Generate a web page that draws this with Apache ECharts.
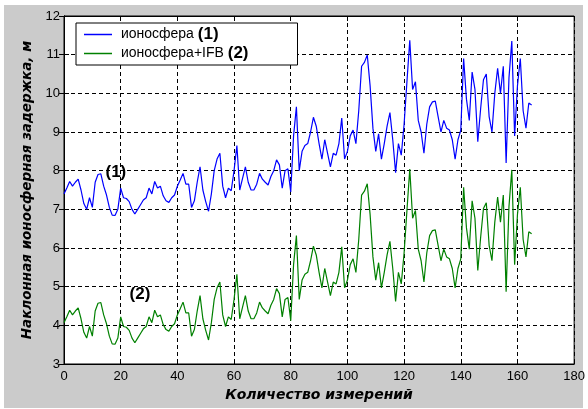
<!DOCTYPE html>
<html>
<head>
<meta charset="utf-8">
<script src="https://cdn.jsdelivr.net/npm/echarts@6/dist/echarts.min.js"></script>
<style>
  html, body { margin: 0; padding: 0; background: #ffffff; }
  #bg { position: absolute; left: 4px; top: 5px; width: 579px; height: 403px; background: #cbcbcb; }
  #chart { position: absolute; left: 0; top: 0; width: 588px; height: 409px; }
</style>
</head>
<body>
<div id="bg"></div>
<div id="chart"></div>
<script>
// Measurement index starts at 0, one value per measurement
const firstIndex = 0;

// Series (1): ionosphere slant delay, m
const ionosphere = [
  7.40, 7.55, 7.72, 7.60, 7.70, 7.78, 7.50, 7.15, 7.00, 7.30,
  7.05, 7.70, 7.90, 7.92, 7.60, 7.37, 7.05, 6.85, 6.84, 7.00,
  7.55, 7.30, 7.28, 7.20, 7.00, 6.88, 7.00, 7.12, 7.24, 7.30,
  7.55, 7.40, 7.72, 7.55, 7.60, 7.35, 7.22, 7.18, 7.30, 7.37,
  7.60, 7.76, 7.93, 7.65, 7.65, 7.05, 7.22, 7.70, 8.10, 7.50,
  7.20, 6.95, 7.40, 8.00, 8.30, 8.45, 7.60, 7.30, 7.55, 7.48,
  8.00, 8.65, 7.50, 7.80, 8.10, 7.70, 7.50, 7.50, 7.65, 7.93,
  7.78, 7.70, 7.63, 7.85, 8.00, 8.28, 8.15, 7.55, 8.00, 8.05,
  7.45, 8.90, 9.65, 8.00, 8.50, 8.65, 8.70, 9.00, 9.38, 9.15,
  8.70, 8.30, 8.80, 8.45, 8.10, 8.45, 8.40, 8.70, 9.36, 8.30,
  8.50, 8.90, 9.05, 8.70, 9.55, 10.70, 10.80, 10.99, 10.20, 9.10,
  8.50, 8.95, 8.30, 8.70, 9.15, 9.50, 8.80, 7.95, 8.70, 8.40,
  9.20, 10.30, 11.37, 10.10, 10.30, 9.30, 9.00, 8.45, 9.20, 9.65,
  9.78, 9.80, 9.40, 9.00, 9.30, 9.10, 9.05, 8.80, 8.30, 8.80,
  9.05, 10.90, 9.85, 9.30, 10.55, 10.10, 8.75, 9.60, 10.35, 10.50,
  9.40, 9.00, 10.00, 10.65, 10.00, 10.70, 8.20, 10.40, 11.35, 8.90,
  10.20, 10.90, 9.55, 9.10, 9.75, 9.70
];

// Series (2): ionosphere + IFB, m
const ionosphereIFB = [
  4.07, 4.22, 4.39, 4.27, 4.37, 4.45, 4.17, 3.82, 3.67, 3.97,
  3.72, 4.37, 4.57, 4.59, 4.27, 4.04, 3.72, 3.52, 3.51, 3.67,
  4.22, 3.97, 3.95, 3.87, 3.67, 3.55, 3.67, 3.79, 3.91, 3.97,
  4.22, 4.07, 4.39, 4.22, 4.27, 4.02, 3.89, 3.85, 3.97, 4.04,
  4.27, 4.43, 4.60, 4.32, 4.32, 3.72, 3.89, 4.37, 4.77, 4.17,
  3.87, 3.62, 4.07, 4.67, 4.97, 5.12, 4.27, 3.97, 4.22, 4.15,
  4.67, 5.32, 4.17, 4.47, 4.77, 4.37, 4.17, 4.17, 4.32, 4.60,
  4.45, 4.37, 4.30, 4.52, 4.67, 4.95, 4.82, 4.22, 4.67, 4.72,
  4.12, 5.57, 6.32, 4.67, 5.17, 5.32, 5.37, 5.67, 6.05, 5.82,
  5.37, 4.97, 5.47, 5.12, 4.77, 5.12, 5.07, 5.37, 6.03, 4.97,
  5.17, 5.57, 5.72, 5.37, 6.22, 7.37, 7.47, 7.66, 6.87, 5.77,
  5.17, 5.62, 4.97, 5.37, 5.82, 6.17, 5.47, 4.62, 5.37, 5.07,
  5.87, 6.97, 8.04, 6.77, 6.97, 5.97, 5.67, 5.12, 5.87, 6.32,
  6.45, 6.47, 6.07, 5.67, 5.97, 5.77, 5.72, 5.47, 4.97, 5.47,
  5.72, 7.57, 6.52, 5.97, 7.22, 6.77, 5.42, 6.27, 7.02, 7.17,
  6.07, 5.67, 6.67, 7.32, 6.67, 7.37, 4.87, 7.07, 8.02, 5.57,
  6.87, 7.57, 6.22, 5.77, 6.42, 6.37
];

const seriesNames = ['ионосфера', 'ионосфера+IFB'];
const seriesTags = ['(1)', '(2)'];
const xTicks = [0, 20, 40, 60, 80, 100, 120, 140, 160, 180];
const yTicks = [3, 4, 5, 6, 7, 8, 9, 10, 11, 12];
const xTitle = 'Количество измерений';
const yTitle = 'Наклонная ионосферная задержка, м';

const toPairs = arr => arr.map((v, i) => [firstIndex + i, v]);

const chart = echarts.init(document.getElementById('chart'), null, { renderer: 'canvas' });

const tickFont = { color: '#000', fontFamily: 'Liberation Sans, Arial, sans-serif', fontSize: 13 };
const titleFont = { color: '#000', fontFamily: 'DejaVu Sans, sans-serif', fontWeight: 'bold', fontStyle: 'italic', fontSize: 13.5 };
const dashed = { show: true, lineStyle: { color: '#000', type: [4, 3], width: 1 } };
const axisLine = { show: true, lineStyle: { color: '#000', width: 1 } };
const tick = { show: true, inside: true, length: 5, lineStyle: { color: '#000' } };
const blueColor = '#0000ff';
const greenColor = '#008000';

chart.setOption({
  animation: false,
  backgroundColor: 'transparent',
  grid: {
    left: 64, right: 13, top: 16, bottom: 45,
    show: true, backgroundColor: '#ffffff', borderColor: '#000', borderWidth: 1
  },
  legend: {
    show: true,
    orient: 'vertical',
    left: 76, top: 23,
    padding: [3, 49, 3, 8],
    itemGap: 2,
    itemWidth: 28,
    itemHeight: 1.5,
    icon: 'rect',
    backgroundColor: '#ffffff',
    borderColor: '#000',
    borderWidth: 1,
    borderRadius: 0,
    data: seriesNames,
    formatter: name => {
      const i = seriesNames.indexOf(name);
      return i === 0 ? ' ' + name + ' {b|' + seriesTags[i] + '}' : ' ' + name + ' {b|' + seriesTags[i] + '}';
    },
    textStyle: {
      color: '#000', fontFamily: 'Liberation Sans, Arial, sans-serif', fontSize: 14, lineHeight: 16,
      rich: { b: { fontFamily: 'Liberation Sans, Arial, sans-serif', fontWeight: 'bold', fontSize: 17, lineHeight: 16, color: '#000' } }
    }
  },
  xAxis: [{
    type: 'value', min: xTicks[0], max: xTicks[xTicks.length - 1], interval: xTicks[1] - xTicks[0],
    position: 'bottom',
    axisLine: axisLine, axisTick: tick, splitLine: dashed,
    axisLabel: Object.assign({ margin: 6 }, tickFont),
    name: xTitle, nameLocation: 'middle', nameGap: 20, nameTextStyle: Object.assign({}, titleFont, { fontSize: 14 })
  }, {
    type: 'value', min: xTicks[0], max: xTicks[xTicks.length - 1], interval: xTicks[1] - xTicks[0],
    position: 'top',
    axisLine: axisLine, axisTick: tick, splitLine: { show: false }, axisLabel: { show: false }
  }],
  yAxis: [{
    type: 'value', min: yTicks[0], max: yTicks[yTicks.length - 1], interval: yTicks[1] - yTicks[0],
    position: 'left',
    axisLine: axisLine, axisTick: tick, splitLine: dashed,
    axisLabel: Object.assign({ margin: 4 }, tickFont),
    name: yTitle, nameLocation: 'middle', nameGap: 30, nameTextStyle: titleFont
  }, {
    type: 'value', min: yTicks[0], max: yTicks[yTicks.length - 1], interval: yTicks[1] - yTicks[0],
    position: 'right',
    axisLine: axisLine, axisTick: tick, splitLine: { show: false }, axisLabel: { show: false }
  }],
  series: [{
    name: seriesNames[0], type: 'line', xAxisIndex: 0, yAxisIndex: 0,
    data: toPairs(ionosphere), symbol: 'none', smooth: false,
    lineStyle: { color: blueColor, width: 1.2 }, itemStyle: { color: blueColor },
    z: 3,
    markPoint: {
      symbol: 'circle', symbolSize: 1, itemStyle: { color: 'rgba(0,0,0,0)' },
      label: { show: true, position: 'inside', formatter: seriesTags[0], color: '#000', fontFamily: 'Liberation Sans, Arial, sans-serif', fontWeight: 'bold', fontSize: 17 },
      data: [{ coord: [18.3, 7.97] }]
    }
  }, {
    name: seriesNames[1], type: 'line', xAxisIndex: 0, yAxisIndex: 0,
    data: toPairs(ionosphereIFB), symbol: 'none', smooth: false,
    lineStyle: { color: greenColor, width: 1.2 }, itemStyle: { color: greenColor },
    z: 3,
    markPoint: {
      symbol: 'circle', symbolSize: 1, itemStyle: { color: 'rgba(0,0,0,0)' },
      label: { show: true, position: 'inside', formatter: seriesTags[1], color: '#000', fontFamily: 'Liberation Sans, Arial, sans-serif', fontWeight: 'bold', fontSize: 17 },
      data: [{ coord: [26.8, 4.79] }]
    }
  }]
});
</script>
</body>
</html>
